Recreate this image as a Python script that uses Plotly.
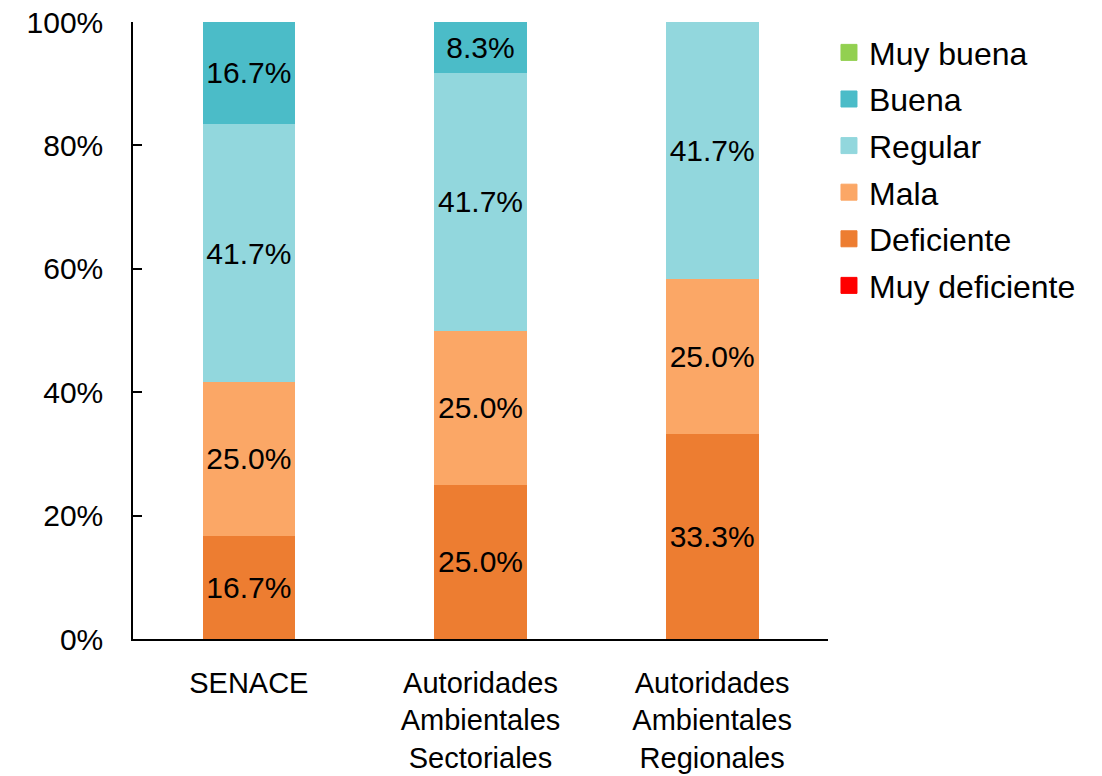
import plotly.graph_objects as go

categories = ["SENACE", "Autoridades<br>Ambientales<br>Sectoriales", "Autoridades<br>Ambientales<br>Regionales"]
series_names = ["Muy deficiente", "Deficiente", "Mala", "Regular", "Buena", "Muy buena"]
muy_deficiente = [0.0, 0.0, 0.0]
deficiente = [16.7, 25.0, 33.3]
mala = [25.0, 25.0, 25.0]
regular = [41.7, 41.7, 41.7]
buena = [16.7, 8.3, 0.0]
muy_buena = [0.0, 0.0, 0.0]
colors = ["#FF0000", "#ED7D31", "#FBA766", "#92D7DD", "#4BBCC8", "#92D050"]
y_ticks = [0, 20, 40, 60, 80, 100]
y_tick_labels = ["0%", "20%", "40%", "60%", "80%", "100%"]

values = [muy_deficiente, deficiente, mala, regular, buena, muy_buena]
FONT = "Liberation Sans, Arial, sans-serif"

fig = go.Figure()
for i, (name, vals, col) in enumerate(zip(series_names, values, colors)):
    fig.add_trace(go.Bar(
        x=categories, y=vals, name=name,
        marker=dict(color=col, line=dict(width=0)),
        text=[f"{v:.1f}%" if v > 0 else "" for v in vals],
        textposition="inside", insidetextanchor="middle",
        textfont=dict(family=FONT, size=30, color="black"),
        showlegend=False,
        hoverinfo="skip",
    ))
# legend entries (square swatches), listed top to bottom from "Muy buena"
for i in reversed(range(len(series_names))):
    name, col = series_names[i], colors[i]
    fig.add_trace(go.Scatter(
        x=[None], y=[None], mode="markers", name=name,
        marker=dict(symbol="square", size=16, color=col, line=dict(color=col, width=1)),
        legendgroup=f"g{i}",
        hoverinfo="skip",
    ))

# page body has an 8px margin, so the figure is sized to fit inside the window
fig.update_layout(
    barmode="stack", bargap=0.6,
    width=1086, height=768,
    margin=dict(l=125, r=266, t=14, b=137),
    paper_bgcolor="white", plot_bgcolor="white",
    font=dict(family=FONT, size=30, color="black"),
    showlegend=True,
    legend=dict(traceorder="grouped", tracegroupgap=2,
                x=1.0014, xanchor="left", y=0.995, yanchor="top",
                font=dict(family=FONT, size=32, color="black"),
                itemwidth=30, itemsizing="trace", bgcolor="rgba(0,0,0,0)"),
)
fig.update_yaxes(range=[0, 100], tickvals=y_ticks, ticktext=y_tick_labels,
                 showgrid=False, zeroline=False, automargin=False,
                 showline=True, linecolor="black", linewidth=1.5,
                 ticks="inside", ticklen=9, tickcolor="black", tickwidth=1.5,
                 ticklabelstandoff=22, ticklabeloverflow="allow",
                 tickfont=dict(family=FONT, size=30, color="black"))
fig.update_xaxes(showgrid=False, showline=True, linecolor="black", linewidth=1.5,
                 ticks="", ticklabelstandoff=17, automargin=False,
                 ticklabeloverflow="allow",
                 tickfont=dict(family=FONT, size=29, color="black"))

fig.write_html("out.html")
